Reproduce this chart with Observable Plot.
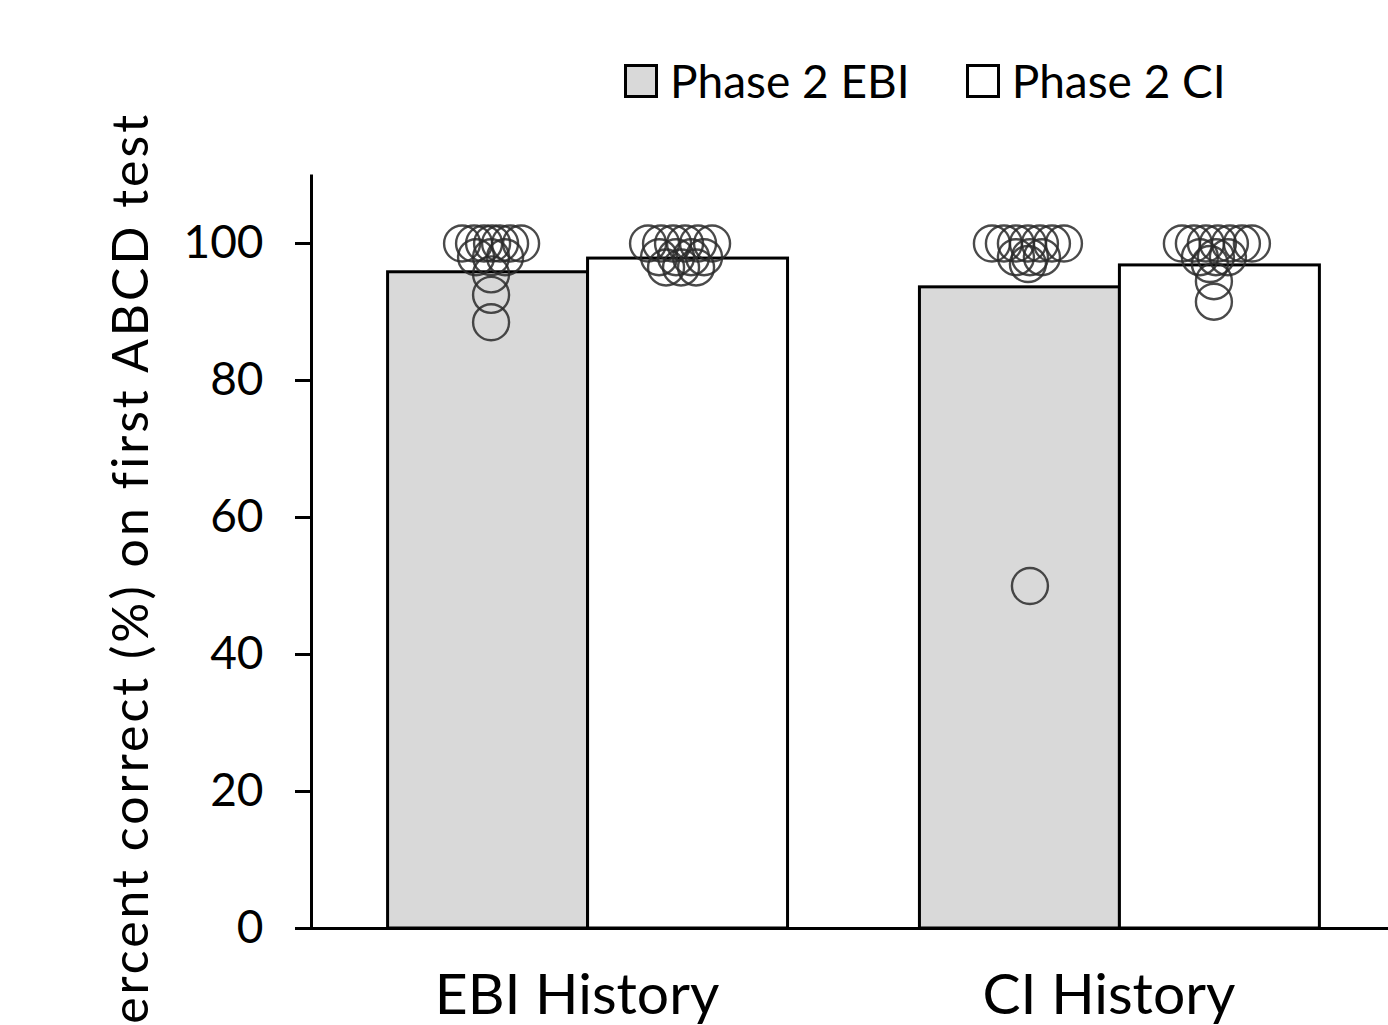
<!DOCTYPE html>
<html><head><meta charset="utf-8">
<script src="https://cdn.jsdelivr.net/npm/d3@7"></script>
<script src="https://cdn.jsdelivr.net/npm/@observablehq/plot@0.6"></script>
<style>
body{margin:0;background:#fff;font-family:Lato,sans-serif;width:1388px;height:1025px;overflow:hidden;}
#legend{position:relative;height:120px;}
#legend .items{position:absolute;left:624px;top:53px;display:flex;gap:56px;align-items:center;}
#legend .item{display:flex;align-items:center;gap:12px;font-size:46px;color:#000;}
#legend .sw{width:28px;height:28px;border:3px solid #000;}
#chart svg{overflow:visible;}
#chart svg g[aria-label="text"] text{letter-spacing:3px;}
</style></head><body>
<div id="legend"></div><div id="chart"></div>
<script>
// ---- data ----
const groups = ["EBI History", "CI History"];
const phases = ["Phase 2 EBI", "Phase 2 CI"];
const phaseColors = ["#d9d9d9", "#ffffff"];
const meanPhase2EBI = [95.8, 93.6];   // per group
const meanPhase2CI  = [97.8, 96.8];   // per group
const yTicks = [0, 20, 40, 60, 80, 100];
const yLabel = "Percent correct (%) on first ABCD test";

// individual subjects: score and horizontal jitter (fraction of bar width)
const ebiHistEbiScores = [100,100,100,100,100,100,100, 98,98,98, 95.5, 92.5, 88.5];
const ebiHistEbiJitter = [-0.13,-0.07,-0.02,0.02,0.06,0.11,0.165, -0.06,0.015,0.085, 0.015,0.015,0.015];
const ebiHistCiScores  = [100,100,100,100,100,100, 98,98,98,98, 96.5,96.5,96.5];
const ebiHistCiJitter  = [-0.2,-0.135,-0.075,-0.015,0.05,0.12, -0.145,-0.06,0.015,0.08, -0.11,-0.035,0.04];
const ciHistEbiScores  = [100,100,100,100,100,100,100, 98,98,98, 97, 50];
const ciHistEbiJitter  = [-0.14,-0.08,-0.02,0.04,0.1,0.16,0.22, -0.02,0.05,0.11, 0.04, 0.05];
const ciHistCiScores   = [100,100,100,100,100,100,100, 98,98,98, 97, 94.5, 91.5];
const ciHistCiJitter   = [-0.19,-0.13,-0.07,-0.01,0.05,0.11,0.16, -0.1,-0.02,0.04, -0.05,-0.03,-0.03];

// ---- layout constants ----
const BW = 0.376;           // bar width in x units (group spacing = 1)
const xDomain = [-0.52, 1.505];
const yMax = 110;

const bars = [];
groups.forEach((g, gi) => {
  bars.push({group: g, gi, phase: phases[0], pi: 0, value: meanPhase2EBI[gi]});
  bars.push({group: g, gi, phase: phases[1], pi: 1, value: meanPhase2CI[gi]});
});
bars.forEach(b => { b.x1 = b.gi + (b.pi - 1) * BW; b.x2 = b.gi + b.pi * BW; });

const dotSets = [
  [0, 0, ebiHistEbiScores, ebiHistEbiJitter],
  [0, 1, ebiHistCiScores, ebiHistCiJitter],
  [1, 0, ciHistEbiScores, ciHistEbiJitter],
  [1, 1, ciHistCiScores, ciHistCiJitter]
];
const dots = [];
dotSets.forEach(([gi, pi, sc, jt]) => sc.forEach((v, k) => {
  dots.push({group: groups[gi], phase: phases[pi], value: v, x: gi + (pi - 0.5) * BW + jt[k] * BW});
}));

// ---- legend ----
const leg = document.getElementById("legend");
const items = document.createElement("div"); items.className = "items";
phases.forEach((p, i) => {
  const it = document.createElement("div"); it.className = "item";
  const sw = document.createElement("div"); sw.className = "sw"; sw.style.background = phaseColors[i];
  const tx = document.createElement("span"); tx.textContent = p;
  it.append(sw, tx); items.append(it);
});
leg.append(items);

// ---- chart ----
const chart = Plot.plot({
  width: 1388,
  height: 905,
  marginTop: 54.5,
  marginBottom: 97,
  marginLeft: 311,
  marginRight: 0,
  style: {fontFamily: "Lato, sans-serif", background: "white", color: "#000", overflow: "visible"},
  x: {type: "linear", domain: xDomain, axis: null},
  y: {domain: [0, yMax], axis: null},
  color: {domain: phases, range: phaseColors},
  marks: [
    Plot.rectY(bars, {x1: "x1", x2: "x2", y1: 0, y2: "value", fill: "phase", stroke: "#000", strokeWidth: 3}),
    Plot.ruleY([0], {insetLeft: -16, stroke: "#000", strokeWidth: 3}),
    Plot.ruleX([xDomain[0]], {y1: 0, y2: yMax, stroke: "#000", strokeWidth: 3}),
    Plot.dot(dots, {x: "x", y: "value", r: 18, stroke: "#2a2a2a", strokeWidth: 2.4, strokeOpacity: 0.85, fill: "none"}),
    Plot.axisY(yTicks, {tickSize: 16, tickPadding: 32, fontSize: 46, strokeWidth: 3, fill: "#000", label: null}),
    Plot.text([yLabel], {frameAnchor: "left", rotate: -90, dx: -164, dy: 32, fontSize: 50,
      textAnchor: "middle", lineAnchor: "bottom", fill: "#000"}),
    Plot.axisX([0, 1], {tickFormat: i => groups[i], tickSize: 0, tickPadding: 45, fontSize: 57, dx: -11, label: null, fill: "#000"})
  ]
});
document.getElementById("chart").append(chart);
</script>
</body></html>
